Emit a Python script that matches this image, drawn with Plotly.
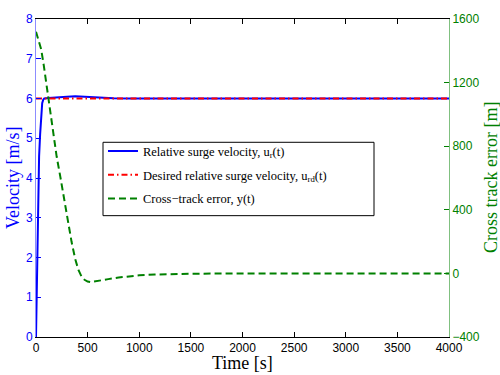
import plotly.graph_objects as go

# ---- data ----
t_u = [0, 5, 10, 15, 20, 25, 30, 40, 50, 60, 70, 80, 120, 200, 300, 380, 450, 550, 650, 750, 900, 1500, 2500, 4000]
u_r = [0, 0.9, 1.9, 2.8, 3.5, 4.1, 4.55, 5.1, 5.6, 5.88, 5.97, 6.0, 6.01, 6.03, 6.045, 6.055, 6.045, 6.025, 6.012, 6.004, 6.0, 6.0, 6.0, 6.0]

t_ud = [0, 4000]
u_rd = [6, 6]

t_y = [0, 25, 50, 75, 100, 125, 150, 175, 200, 235, 265, 300, 345, 380, 410, 440, 470, 500, 530,
       600, 700, 800, 900, 1000, 1150, 1300, 1500, 1800, 2000, 3000, 4000]
y_err = [1520, 1470, 1410, 1310, 1190, 1075, 955, 840, 735, 610, 505, 365, 197, 90, 23, -18, -40, -51, -55,
         -49, -36, -26, -18, -12, -7, -4, -2, -1, 0, 0, 0]

x_ticks = [0, 500, 1000, 1500, 2000, 2500, 3000, 3500, 4000]
v_ticks = [0, 1, 2, 3, 4, 5, 6, 7, 8]
e_ticks = [-400, 0, 400, 800, 1200, 1600]

names = ["Relative surge velocity, u<sub>r</sub>(t)",
         "Desired relative surge velocity, u<sub>rd</sub>(t)",
         "Cross\u2212track error, y(t)"]

BLUE = "#0000ff"
RED = "#ff0000"
GREEN = "#008000"
SANS = "Liberation Sans, Arial, sans-serif"
SERIF = "Liberation Serif, Times New Roman, serif"

fig = go.Figure()
fig.add_trace(go.Scatter(x=t_u, y=u_r, mode="lines", name=names[0], legendgroup="a",
                         line=dict(color=BLUE, width=2)))
fig.add_trace(go.Scatter(x=t_ud, y=u_rd, mode="lines", name=names[1], legendgroup="b",
                         line=dict(color=RED, width=2, dash="6px,3px,1.5px,3px")))
fig.add_trace(go.Scatter(x=t_y, y=y_err, mode="lines", name=names[2], legendgroup="c", yaxis="y2",
                         line=dict(color=GREEN, width=2, dash="7px,4px")))

fig.update_layout(
    width=500, height=375,
    margin=dict(l=36, r=51, t=12, b=38, pad=0),
    paper_bgcolor="white", plot_bgcolor="white",
    showlegend=True,
    legend=dict(x=0.1622, y=0.631, xanchor="left", yanchor="top",
                bgcolor="rgba(0,0,0,0)", borderwidth=0,
                font=dict(family=SERIF, size=12.5, color="black"),
                tracegroupgap=4.5, traceorder="grouped"),
    xaxis=dict(range=[0, 4000], tickvals=x_ticks, ticks="inside", ticklen=5,
               tickcolor="black", showline=True, linecolor="black", linewidth=1,
               mirror="ticks", showgrid=False, zeroline=False,
               tickfont=dict(family=SANS, size=12, color="black")),
    yaxis=dict(range=[0, 8], tickvals=v_ticks, ticks="inside", ticklen=5,
               tickcolor=BLUE, showline=True, linecolor="#8c8cff", linewidth=1,
               showgrid=False, zeroline=False,
               tickfont=dict(family=SANS, size=12, color=BLUE)),
    yaxis2=dict(range=[-400, 1600], tickvals=e_ticks, ticks="inside", ticklen=5,
                tickcolor=GREEN, showline=True, linecolor="#80c080", linewidth=1,
                overlaying="y", side="right", showgrid=False, zeroline=False,
                tickfont=dict(family=SANS, size=12, color=GREEN)),
    shapes=[dict(type="rect", xref="paper", yref="paper",
                 x0=(103 - 36) / 413, x1=(374 - 36) / 413,
                 y0=(337 - 213) / 325, y1=(337 - 138) / 325,
                 line=dict(color="black", width=1), fillcolor="white", layer="above")],
    annotations=[
        dict(text="Velocity [m/s]", xref="paper", yref="paper", x=(13 - 36) / 413, y=0.5,
             textangle=-90, showarrow=False, xanchor="center", yanchor="middle",
             font=dict(family=SERIF, size=18, color=BLUE)),
        dict(text="Cross track error [m]", xref="paper", yref="paper", x=(491 - 36) / 413, y=0.5,
             textangle=-90, showarrow=False, xanchor="center", yanchor="middle",
             font=dict(family=SERIF, size=18, color=GREEN)),
        dict(text="Time [s]", xref="paper", yref="paper", x=(242.5 - 36) / 413, y=(337 - 363.5) / 325,
             showarrow=False, xanchor="center", yanchor="middle",
             font=dict(family=SERIF, size=18, color="black")),
    ],
)

fig.write_html("out.html")
